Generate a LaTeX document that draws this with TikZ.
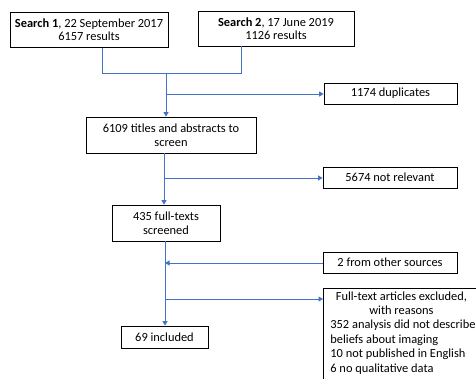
\documentclass[tikz,border=0pt]{standalone}
\usepackage{fontspec}
\setmainfont{Carlito}
\usetikzlibrary{arrows.meta}
\definecolor{flowblue}{HTML}{4472C4}
\tikzset{
  box/.style={draw=black, line width=0.8pt, fill=white, align=center, inner sep=2pt,
    font=\fontsize{12.4}{14.4}\selectfont},
  tightbox/.style={box, font=\fontsize{12.4}{13}\selectfont},
  flow/.style={draw=flowblue, line width=0.9pt},
  flowarrow/.style={flow, -{Triangle[length=4.5pt,width=5pt]}},
}
\begin{document}
\begin{tikzpicture}[x=1pt,y=-1pt]
\useasboundingbox (0,0) rectangle (476,378);
\node[tightbox, minimum width=158, minimum height=35] (s1) at (89,30) {\textbf{Search 1}, 22 September 2017\\6157 results};
\node[tightbox, minimum width=156, minimum height=35] (s2) at (276,28.5) {\textbf{Search 2}, 17 June 2019\\1126 results};
\node[box, minimum width=133, minimum height=21] (dup) at (390.5,93.5) {1174 duplicates};
\node[box, minimum width=170, minimum height=36] (ta) at (171,135) {6109 titles and abstracts to\\screen};
\node[box, minimum width=134, minimum height=21] (nr) at (390,177.5) {5674 not relevant};
\node[box, minimum width=108, minimum height=36] (ft) at (166,223) {435 full-texts\\screened};
\node[box, minimum width=134, minimum height=21] (os) at (390,262.5) {2 from other sources};
\node[box, minimum width=87, minimum height=22] (inc) at (164.5,337) {69 included};
\node[box, anchor=north west, inner xsep=7pt, inner ysep=3pt, align=left] (ex) at (323,288)
  {\makebox[142pt]{Full-text articles excluded,}\\ \makebox[142pt]{with reasons}\\
   352 analysis did not describe\\ beliefs about imaging\\ 10 not published in English\\ 6 no qualitative data\rule[-12pt]{0pt}{1pt}};
% junction coordinates
\coordinate (a1) at (102,73);
\coordinate (a2) at (241,73);
\coordinate (m1) at (166,73);
\coordinate (b1) at (166,94);
\coordinate (b2) at (164,178);
\coordinate (b3) at (165,263);
\coordinate (b4) at (165,299);
% connectors
\draw[flow] (s1.south -| a1) -- (a1) -- (a2) -- (s2.south -| a2);
\draw[flowarrow] (m1) -- (ta.north -| m1);
\draw[flowarrow] (b1) -- (dup.west |- b1);
\draw[flowarrow] (ta.south -| b2) -- (ft.north -| b2);
\draw[flowarrow] (b2) -- (nr.west |- b2);
\draw[flowarrow] (ft.south -| b3) -- (inc.north -| b3);
\draw[flowarrow] (os.west |- b3) -- (b3);
\draw[flowarrow] (b4) -- (ex.west |- b4);
\end{tikzpicture}
\end{document}
